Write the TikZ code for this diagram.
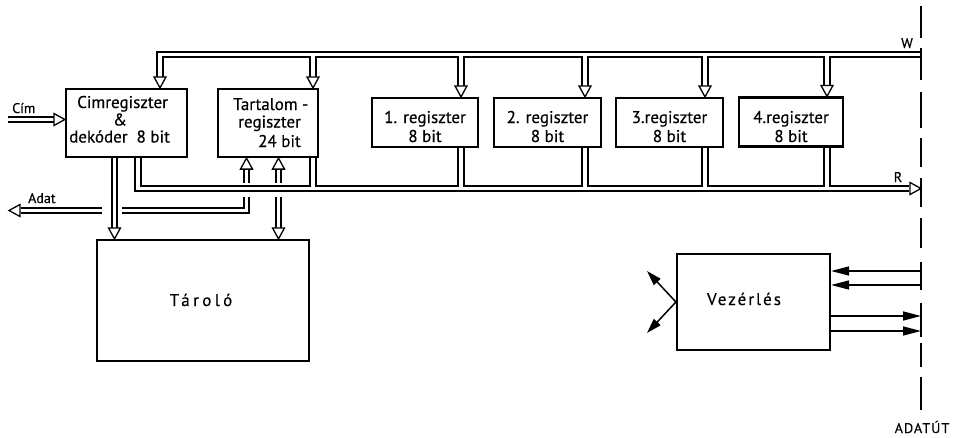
\documentclass[tikz,border=0pt]{standalone}
\usepackage{fontspec}
\setmainfont{PT Sans}[FakeBold=0.5]
\usetikzlibrary{arrows.meta}
\newcommand\fsz{\fontsize{17}{19}\selectfont}
\newcommand\fss{\fontsize{14}{16}\selectfont}
\begin{document}
\begin{tikzpicture}[x=1pt,y=-1pt,
  box/.style={draw,line width=2.2pt,inner sep=0pt},
  txt/.style={inner sep=0pt,font=\fsz},
  stxt/.style={inner sep=0pt,font=\fss},
  bus/.style={line width=1.3pt},
  fa/.style={line width=1.5pt,-{Triangle[length=18pt,width=9pt]}},
  oa/.pic={\draw[line width=1.3pt,fill=white,line join=miter] (0,0) -- (-6,-11) -- (6,-11) -- cycle;}]
\useasboundingbox (0,0) rectangle (964,437);

% boxes
\node[box,minimum width=121pt,minimum height=68pt] (cim) at (126.5,123) {};
\node[box,minimum width=100pt,minimum height=68pt] (tart) at (268,123) {};
\node[box,minimum width=106pt,minimum height=49pt] (r1) at (425,122.5) {};
\node[box,minimum width=107pt,minimum height=49pt] (r2) at (547.5,122.5) {};
\node[box,minimum width=107pt,minimum height=49pt] (r3) at (669.5,122.5) {};
\node[box,minimum width=104pt,minimum height=49pt] (r4) at (791,122) {};
\node[box,minimum width=212pt,minimum height=121pt] (taro) at (203,300.5) {};
\node[box,minimum width=153pt,minimum height=96pt] (vez) at (753.5,302) {};

% texts
\node[txt,anchor=base west] (cimA) at (77,108) {Cimregiszter};
\node[txt,anchor=base] (cimB) at (120,125.5) {\&};
\node[txt,anchor=base west] (cimC) at (69,142.5) {dekóder\hspace{9pt}8 bit};
\node[txt,anchor=base west] (tartA) at (233,110) {Tartalom -};
\node[txt,anchor=base west] (tartB) at (238,127.5) {regiszter};
\node[txt,anchor=base west] (tartC) at (258,147) {24 bit};
\node[txt,anchor=base] (r1a) at (r1.center |- 0,123) {1. regiszter};
\node[txt,anchor=base] (r1b) at (r1.center |- 0,142) {8 bit};
\node[txt,anchor=base] (r2a) at (r2.center |- 0,123) {2. regiszter};
\node[txt,anchor=base] (r2b) at (r2.center |- 0,142) {8 bit};
\node[txt,anchor=base] (r3a) at (r3.center |- 0,123) {3.regiszter};
\node[txt,anchor=base] (r3b) at (r3.center |- 0,142) {8 bit};
\node[txt,anchor=base] (r4a) at (r4.center |- 0,123) {4.regiszter};
\node[txt,anchor=base] (r4b) at (r4.center |- 0,142) {8 bit};
\node[txt,anchor=base] (taroT) at (201,306) {\addfontfeature{LetterSpace=20}Tároló};
\node[txt,anchor=base] (vezT) at (744,305) {\addfontfeature{LetterSpace=12}Vezérlés};
\node[stxt,anchor=base] (adatut) at (922,433) {\addfontfeature{LetterSpace=8}ADATÚT};
\node[stxt,anchor=base] (wl) at (907,48) {W};
\node[stxt,anchor=base] (rl) at (898,182) {R};
\node[stxt,anchor=base west] (ciml) at (12,113) {Cím};
\node[stxt,anchor=base west] (adatl) at (28,203) {Adat};

% ADATUT dashed line
\foreach \a/\b in {6/38,48/80,92/128,138/167,178/207,218/248,262/290,303/337,343/367,377/410}
  \draw[line width=1.8pt] (921,\a) -- (921,\b);

% W bus
\draw[bus] (157,77) -- (157,52) -- (921,52);
\draw[bus] (163,77) -- (163,57) -- (310,57) -- (310,77);
\draw[bus] (316,77) -- (316,57) -- (458,57) -- (458,86);
\draw[bus] (464,86) -- (464,57) -- (582,57) -- (582,86);
\draw[bus] (588,86) -- (588,57) -- (702,57) -- (702,86);
\draw[bus] (708,86) -- (708,57) -- (824,57) -- (824,86);
\draw[bus] (830,86) -- (830,57) -- (921,57);
\pic at (cim.north -| 160,0) {oa};
\pic at (tart.north -| 313,0) {oa};
\pic at (r1.north -| 461,0) {oa};
\pic at (r2.north -| 585,0) {oa};
\pic at (r3.north -| 705,0) {oa};
\pic at (r4.north -| 827,0) {oa};

% R bus
\draw[bus] (135,157) -- (135,191) -- (909,191);
\draw[bus] (141,157) -- (141,186) -- (310,186) -- (310,157);
\draw[bus] (316,157) -- (316,186) -- (458,186) -- (458,147);
\draw[bus] (464,147) -- (464,186) -- (582,186) -- (582,147);
\draw[bus] (588,147) -- (588,186) -- (702,186) -- (702,147);
\draw[bus] (708,147) -- (708,186) -- (824,186) -- (824,147);
\draw[bus] (830,147) -- (830,186) -- (909,186);
\coordinate (rtip) at (921,188.5);
\pic[rotate=90] at (rtip) {oa};

% Cimregiszter -> Taroló
\draw[bus] (112,157) -- (112,229);
\draw[bus] (117,157) -- (117,229);
\pic at (taro.north -| 114.5,0) {oa};
% Tartalom -> Taroló
\draw[bus] (276,197) -- (276,229);
\draw[bus] (281,197) -- (281,229);
\pic at (taro.north -| 278.5,0) {oa};
% inputs into Tartalom
\draw[bus] (244,183) -- (244,168);
\draw[bus] (249,183) -- (249,168);
\pic[rotate=180] at (tart.south -| 246.5,0) {oa};
\draw[bus] (276,183) -- (276,168);
\draw[bus] (281,183) -- (281,168);
\pic[rotate=180] at (tart.south -| 278.5,0) {oa};

% Adat
\draw[bus] (244,197) -- (244,208) -- (122,208);
\draw[bus] (249,197) -- (249,213) -- (122,213);
\draw[bus] (102,208) -- (21,208);
\draw[bus] (102,213) -- (21,213);
\coordinate (adattip) at (9,210.5);
\pic[rotate=-90] at (adattip) {oa};

% Cim input
\draw[bus] (8,117) -- (54,117);
\draw[bus] (8,122) -- (54,122);
\pic[rotate=90] at (cim.west |- 0,119.5) {oa};

% Vezerles arrows
\draw[fa] (921,271) -- (vez.east |- 0,271);
\draw[fa] (921,285) -- (vez.east |- 0,285);
\draw[fa] (vez.east |- 0,316) -- (921,316);
\draw[fa] (vez.east |- 0,331) -- (921,331);
\coordinate (vl) at (vez.west |- 0,302);
\draw[line width=1.5pt,-{Triangle[length=15pt,width=9pt]}] (vl) -- (647,271);
\draw[line width=1.5pt,-{Triangle[length=15pt,width=9pt]}] (vl) -- (647,333);
\end{tikzpicture}
\end{document}
